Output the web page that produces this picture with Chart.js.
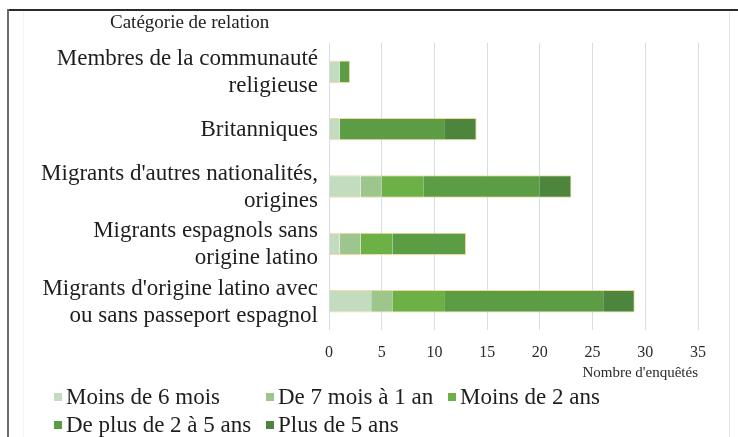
<!DOCTYPE html>
<html lang="fr">
<head>
<meta charset="utf-8">
<title>Catégorie de relation</title>
<script src="https://cdn.jsdelivr.net/npm/chart.js@4/dist/chart.umd.min.js"></script>
<style>
  html, body { margin: 0; padding: 0; background: #fff; }
  #wrap { position: relative; width: 738px; height: 437px; overflow: hidden; background: #fff; }
  #chart { position: absolute; left: 0; top: 0; }
  .frame-top { position: absolute; left: 8px; top: 9px; width: 730px; height: 2px; background: #2a2a2a; }
  .frame-left { position: absolute; left: 7px; top: 9px; width: 2px; height: 428px; background: #6a6a6a; }
  .frame-right { position: absolute; left: 729px; top: 11px; width: 1px; height: 426px; background: #dfe6ee; }
  .frame-inner { position: absolute; left: 23px; top: 11px; width: 1px; height: 426px; background: #f3f3f3; }
  #heading { position: absolute; left: 110px; top: 11px; font-family: "Liberation Serif", "Times New Roman", serif; font-size: 19px; color: #222; white-space: nowrap; }
  #legend { position: absolute; left: 54px; top: 383px; font-family: "Liberation Serif", "Times New Roman", serif; font-size: 23px; color: #1e1e1e; }
  .row { position: relative; height: 28px; }
  .item { position: absolute; top: 0; white-space: nowrap; line-height: 28px; font-family: "Liberation Serif", "Times New Roman", serif; font-size: 23px; }
  .swatch { display: inline-block; width: 8px; height: 8px; margin-right: 4px; vertical-align: middle; position: relative; top: -2px; }
</style>
</head>
<body>
<div id="wrap">
  <canvas id="chart" width="738" height="437"></canvas>
  <div class="frame-inner"></div>
  <div class="frame-right"></div>
  <div class="frame-top"></div>
  <div class="frame-left"></div>
  <div id="heading">Catégorie de relation</div>
  <div id="legend"></div>
</div>
<script>
// Relation categories, listed from top to bottom
const categories = [
  ["Membres de la communauté", "religieuse"],
  "Britanniques",
  ["Migrants d'autres nationalités,", "origines"],
  ["Migrants espagnols sans", "origine latino"],
  ["Migrants d'origine latino avec", "ou sans passeport espagnol"]
];

// Number of surveyed people per length of stay
const moinsDe6Mois   = [1, 1, 3, 1, 4];
const de7MoisA1An    = [0, 0, 2, 2, 2];
const moinsDe2Ans    = [0, 0, 4, 3, 5];
const dePlusDe2A5Ans = [1, 10, 11, 7, 15];
const plusDe5Ans     = [0, 3, 3, 0, 3];

const seriesNames = ["Moins de 6 mois", "De 7 mois à 1 an", "Moins de 2 ans", "De plus de 2 à 5 ans", "Plus de 5 ans"];
const xTicks = [0, 5, 10, 15, 20, 25, 30, 35];
const xTitle = "Nombre d'enquêtés";

const colors = ["#c3dbbf", "#9dc68d", "#6cb046", "#5b9c44", "#4e853c"];
const seriesValues = [moinsDe6Mois, de7MoisA1An, moinsDe2Ans, dePlusDe2A5Ans, plusDe5Ans];

const serif = '"Liberation Serif", "Times New Roman", serif';

// thin outline on top and bottom of each segment, and on the right end of the bar
function outline(ctx) {
  const ds = ctx.chart.data.datasets;
  const i = ctx.dataIndex;
  const v = ds[ctx.datasetIndex].data[i];
  if (!v) return 0;
  let last = -1;
  ds.forEach((d, k) => { if (d.data[i] > 0) last = k; });
  return { top: 1, bottom: 1, left: 0, right: ctx.datasetIndex === last ? 1 : 0 };
}

const chart = new Chart(document.getElementById("chart"), {
  type: "bar",
  data: {
    labels: categories,
    datasets: seriesNames.map((name, k) => ({
      label: name,
      data: seriesValues[k],
      backgroundColor: colors[k],
      borderColor: "rgba(238, 214, 150, 0.9)",
      borderWidth: outline,
      borderSkipped: false,
      barPercentage: 0.39,
      categoryPercentage: 1
    }))
  },
  options: {
    indexAxis: "y",
    responsive: false,
    animation: false,
    layout: { padding: { top: 43, right: 40, bottom: 55, left: 0 } },
    plugins: {
      legend: { display: false },
      title: { display: false },
      tooltip: { enabled: false }
    },
    scales: {
      x: {
        stacked: true,
        min: 0,
        max: 35,
        afterBuildTicks: s => { s.ticks = xTicks.map(v => ({ value: v })); },
        afterFit: s => { s.height = 52; },
        grid: { color: "#d5dde7", lineWidth: 1, drawTicks: false },
        border: { display: false },
        ticks: { padding: 13, color: "#2a2a2a", font: { family: serif, size: 16 } },
        title: {
          display: true,
          text: xTitle,
          align: "end",
          color: "#2a2a2a",
          padding: { top: 0, bottom: 0 },
          font: { family: serif, size: 15 }
        }
      },
      y: {
        stacked: true,
        afterFit: s => { s.width = 329; },
        grid: { display: false, drawTicks: false },
        border: { display: false },
        ticks: {
          padding: 11,
          labelOffset: 1,
          color: "#1e1e1e",
          font: { family: serif, size: 23, lineHeight: 1.17 }
        }
      }
    }
  }
});

// Legend laid out in columns, built from the chart's datasets
const columns = [0, 212, 394];
const perRow = 3;
const legendEl = document.getElementById("legend");
let row = null;
chart.data.datasets.forEach((ds, k) => {
  if (k % perRow === 0) {
    row = document.createElement("div");
    row.className = "row";
    legendEl.appendChild(row);
  }
  const item = document.createElement("span");
  item.className = "item";
  item.style.left = columns[k % perRow] + "px";
  const sw = document.createElement("span");
  sw.className = "swatch";
  sw.style.background = ds.backgroundColor;
  item.appendChild(sw);
  item.appendChild(document.createTextNode(ds.label));
  row.appendChild(item);
});
</script>
</body>
</html>
